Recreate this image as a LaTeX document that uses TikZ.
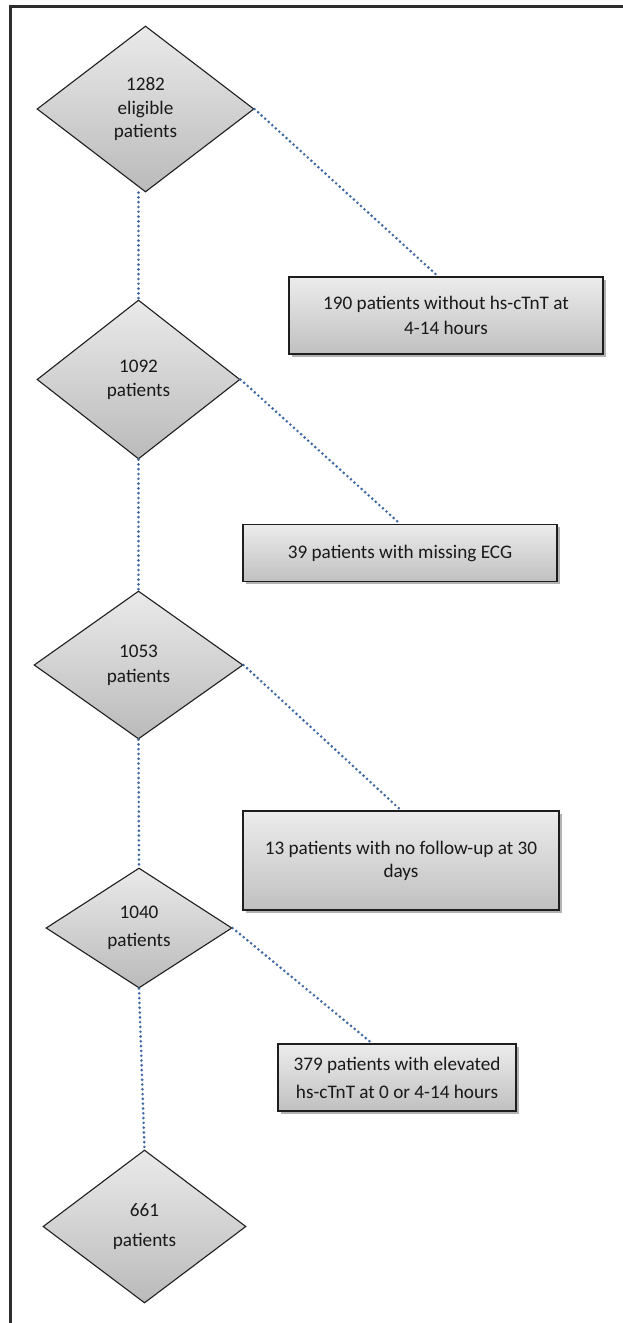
\documentclass[tikz,border=0pt]{standalone}
\usepackage{fontspec}
\setmainfont{Carlito}
\usetikzlibrary{shapes.geometric,shadows}
\definecolor{dotblue}{RGB}{62,104,164}
\definecolor{edgegray}{RGB}{30,30,30}
\definecolor{frame}{RGB}{45,45,45}
\definecolor{dtop}{RGB}{234,234,234}
\definecolor{dbot}{RGB}{186,186,186}
\definecolor{btop}{RGB}{236,236,236}
\definecolor{bbot}{RGB}{192,192,192}
\definecolor{txt}{RGB}{25,25,25}
\tikzset{
  dia/.style={shape=diamond, draw=edgegray, line width=1.1pt, inner sep=0pt,
    align=center, top color=dtop, bottom color=dbot, text=txt},
  fbox/.style={rectangle, draw=edgegray, line width=1.5pt, inner sep=0pt,
    align=center, top color=btop, bottom color=bbot, text=txt,
    drop shadow={shadow xshift=2.5pt, shadow yshift=-2.5pt, fill=black, opacity=0.3}},
  dotline/.style={draw=dotblue, line width=2.9pt, line cap=round, dash pattern=on 0pt off 4.8pt},
  fs/.style={font=\fontsize{19.2}{#1}\selectfont}
}
\begin{document}
\begin{tikzpicture}[x=1pt,y=-1pt]
\useasboundingbox (0,0) rectangle (623,1323);
\fill[white] (0,0) rectangle (623,1323);
\draw[frame, line width=2.3pt] (10.5,1330) -- (10.5,6.5) -- (630,6.5);

% diamonds
\node[dia, fs=23.5, minimum width=217pt, minimum height=166pt] (d1) at (145.5,109) {1282\\eligible\\patients};
\node[dia, fs=24, minimum width=203pt, minimum height=159pt] (d2) at (138.5,379.5) {1092\\patients};
\node[dia, fs=25, minimum width=209pt, minimum height=148pt] (d3) at (138.5,665) {1053\\patients};
\node[dia, fs=28, minimum width=186pt, minimum height=120pt] (d4) at (139,928) {1040\\patients};
\node[dia, fs=30, minimum width=203pt, minimum height=153pt] (d5) at (144.5,1226.5) {661\\patients};

% boxes
\node[fbox, fs=25, minimum width=314pt, minimum height=77pt] (b1) at (446,315.5) {190 patients without hs-cTnT at\\4-14 hours};
\node[fbox, fs=25, minimum width=314pt, minimum height=57pt] (b2) at (400,553) {39 patients with missing ECG};
\node[fbox, fs=23, minimum width=316pt, minimum height=99pt] (b3) at (401,860.5) {13 patients with no follow-up at 30\\days};
\node[fbox, fs=28, minimum width=238pt, minimum height=67pt] (b4) at (397,1077.5) {379 patients with elevated\\hs-cTnT at 0 or 4-14 hours};

% connectors
\draw[dotline] (d2.north |- d1.south) -- (d2.north);
\draw[dotline] (d2.south) -- (d3.north);
\draw[dotline] (d3.south) -- (d4.north);
\draw[dotline] (d4.south) -- (d5.north);
\draw[dotline] (d1.east) -- ([xshift=-8pt]b1.north);
\draw[dotline] (d2.east) -- (b2.north);
\draw[dotline] (d3.east) -- (b3.north);
\draw[dotline] (d4.east) -- ([xshift=-25pt]b4.north);
\end{tikzpicture}
\end{document}
